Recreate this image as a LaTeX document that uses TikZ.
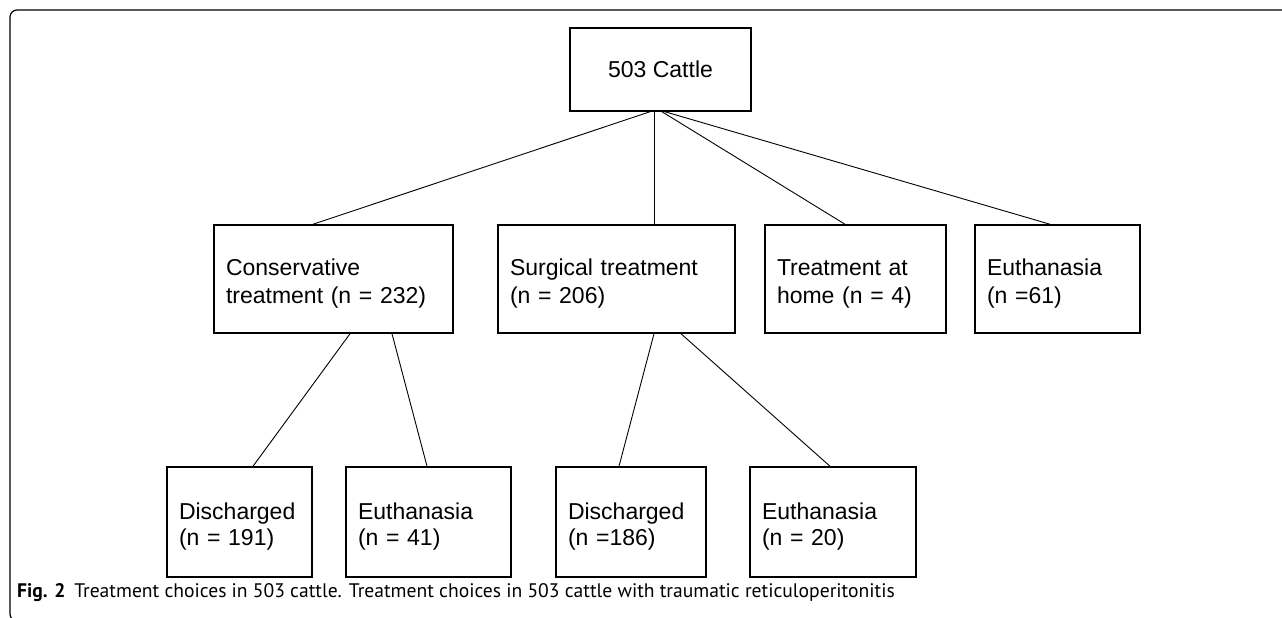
\documentclass[tikz,border=0pt]{standalone}
\usepackage{fontspec}
\setmainfont{Liberation Sans}
\newfontfamily\capfont{PT Sans}
\newcommand{\pushdown}{\rule{0pt}{26pt}}
\begin{document}
\begin{tikzpicture}[x=1pt,y=-1pt,
  box/.style={draw, line width=1.5pt, inner xsep=12pt, inner ysep=0pt, align=left,
    font=\fontsize{23}{28}\selectfont},
  lowbox/.style={box, font=\fontsize{23}{25.5}\selectfont},
  topbox/.style={draw, line width=1.5pt, align=center, font=\fontsize{23}{28}\selectfont},
  link/.style={line width=0.9pt},
  frame/.style={line width=1.2pt, rounded corners=7pt}]
\useasboundingbox (0,0) rectangle (1282,618);
\draw[frame] (1300,10) -- (10,10) -- (10,621) -- (30,621);

\node[topbox, minimum width=181pt, minimum height=83pt] (top) at (660.5,69.5) {503 Cattle};

\node[box, minimum width=239pt, text width=215pt, minimum height=108pt] (cons) at (333.5,279) {\pushdown Conservative\\treatment (n = 232)};
\node[box, minimum width=237pt, text width=213pt, minimum height=108pt] (surg) at (616.5,279) {\pushdown Surgical treatment\\(n = 206)};
\node[box, minimum width=181pt, text width=157pt, minimum height=108pt] (home) at (855.5,279) {\pushdown Treatment at\\home (n = 4)};
\node[box, minimum width=165pt, text width=141pt, minimum height=108pt] (euth) at (1057.5,279) {\pushdown Euthanasia\\(n =61)};

\node[lowbox, minimum width=145pt, text width=121pt, minimum height=110pt] (dis1) at (239.5,522) {\pushdown Discharged\\(n = 191)};
\node[lowbox, minimum width=165pt, text width=141pt, minimum height=110pt] (eut1) at (428.5,522) {\pushdown Euthanasia\\(n = 41)};
\node[lowbox, minimum width=150pt, text width=126pt, minimum height=110pt] (dis2) at (631,522) {\pushdown Discharged\\(n =186)};
\node[lowbox, minimum width=166pt, text width=142pt, minimum height=110pt] (eut2) at (833,522) {\pushdown Euthanasia\\(n = 20)};

\draw[link] ([xshift=-10.5pt]top.south) -- ([xshift=-20.5pt]cons.north);
\draw[link] ([xshift=-6.5pt]top.south) -- ([xshift=37.5pt]surg.north);
\draw[link] ([xshift=1.5pt]top.south) -- ([xshift=-10.5pt]home.north);
\draw[link] ([xshift=4.5pt]top.south) -- ([xshift=-7.5pt]euth.north);

\draw[link] ([xshift=16.5pt]cons.south) -- ([xshift=13.5pt]dis1.north);
\draw[link] ([xshift=58.5pt]cons.south) -- ([xshift=-1.5pt]eut1.north);
\draw[link] ([xshift=37.5pt]surg.south) -- ([xshift=-12pt]dis2.north);
\draw[link] ([xshift=64.5pt]surg.south) -- ([xshift=-3pt]eut2.north);

\node[anchor=base west, inner sep=0pt, font=\capfont\fontsize{19.6}{23}\selectfont] (cap) at (17,597)
  {\textbf{Fig. 2}\hspace{0.45em}Treatment choices in 503 cattle. Treatment choices in 503 cattle with traumatic reticuloperitonitis};
\end{tikzpicture}
\end{document}
